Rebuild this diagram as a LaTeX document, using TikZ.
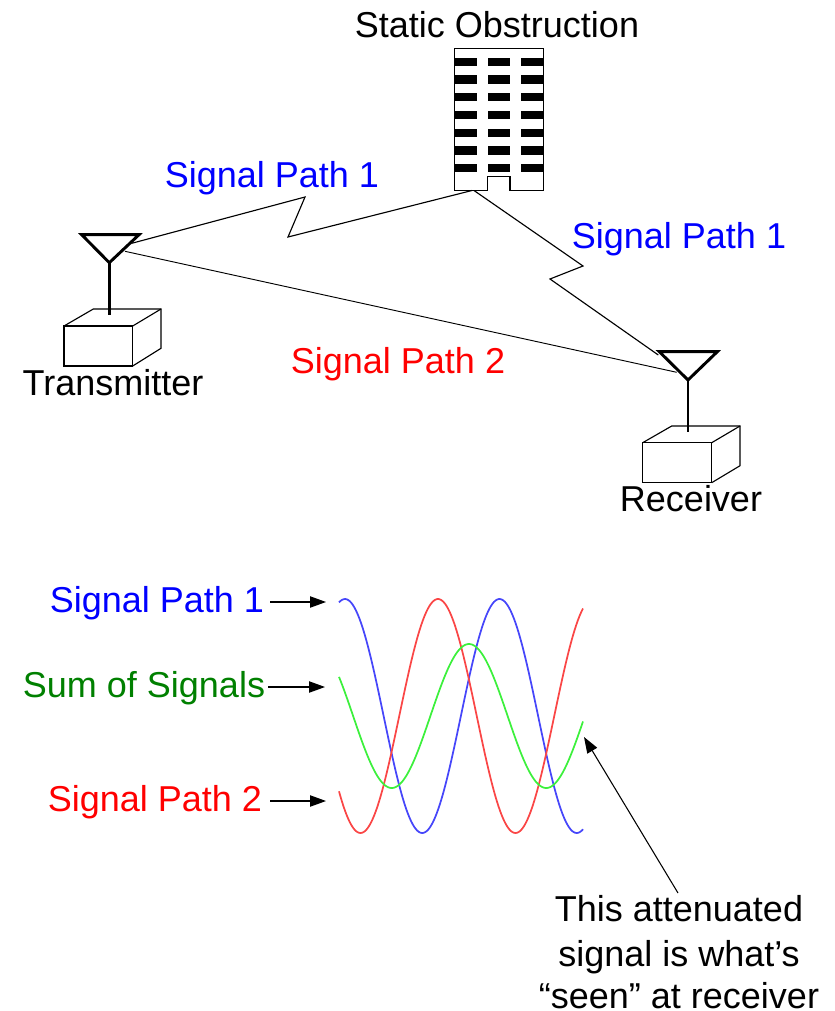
\documentclass[tikz,border=0pt]{standalone}
\usepackage{fontspec}
\setmainfont{Liberation Sans}
\usetikzlibrary{arrows.meta}
\definecolor{sgreen}{RGB}{0,128,0}
\definecolor{wgreen}{RGB}{60,240,60}
\definecolor{wred}{RGB}{250,70,70}
\definecolor{wblue}{RGB}{70,70,250}
\tikzset{
  lbl/.style={inner sep=0pt,font=\fontsize{27pt}{32pt}\selectfont,text height=19pt,text depth=5.5pt},
  lblb/.style={inner sep=0pt,font=\fontsize{27pt}{32pt}\selectfont,anchor=base},
  thinln/.style={line width=.85pt,black},
  ant/.style={line width=2.2pt,black,line join=miter},
  boxln/.style={line width=.85pt,black,line join=miter},
  arr/.style={line width=.8pt,-{Triangle[length=12pt,width=8.5pt]}},
  wave/.style={line width=1.3pt,smooth,samples=160,domain=339:583}
}
\begin{document}
\begin{tikzpicture}[x=0.75pt,y=-0.75pt]
\useasboundingbox (0,0) rectangle (835,1011);
% building
\draw[boxln] (454.7,190.3) -- (454.7,48.7) -- (543.3,48.7) -- (543.3,190.3) -- (510,190.3) -- (510,176.7) -- (487.7,176.7) -- (487.7,190.3) -- cycle;
\foreach \r in {57.7,75.3,93,110.7,128.7,146.3,164}{
  \foreach \c/\d in {454.7/476.7,487.7/510,521/543.3}{
    \fill[black] (\c,\r) rectangle (\d,\r+8.3);
  }
}
\coordinate (bA) at (472,190.5);
\coordinate (bB) at (474,190.5);
% transmitter
\coordinate (t1) at (81.7,234.7);
\coordinate (t2) at (139,234.7);
\coordinate (t3) at (109.3,262.7);
\coordinate (t4) at (109.3,315);
\draw[boxln] (64,326) rectangle (132.7,366);
\draw[boxln] (64,326) -- (93.3,309) -- (161,309) -- (161,348.3) -- (132.7,366);
\draw[boxln] (132.7,326) -- (161,309);
\draw[ant] (t1) -- (t2) -- (t3) -- cycle;
\draw[ant] (t3) -- (t4);
% receiver
\coordinate (r1) at (659.3,351.7);
\coordinate (r2) at (717.3,351.7);
\coordinate (r3) at (688,380);
\coordinate (r4) at (688,432.3);
\draw[boxln] (642.7,442.7) rectangle (711.7,482.7);
\draw[boxln] (642.7,442.7) -- (671.7,426) -- (740,426) -- (740,465.7) -- (711.7,482.7);
\draw[boxln] (711.7,442.7) -- (740,426);
\draw[ant] (r1) -- (r2) -- (r3) -- cycle;
\draw[ant] (r3) -- (r4);
% signal paths
\coordinate (tA) at (131.7,243.3);
\coordinate (tB) at (125,251.3);
\coordinate (rA) at (658.3,355);
\coordinate (rB) at (676.7,372.3);
\draw[thinln] (tA) -- (305,197) -- (288,237) -- (bA);
\draw[thinln] (bB) -- (583,266) -- (550,279) -- (rA);
\draw[thinln,line width=.7pt] (tB) -- (rB);
% labels
\node[lbl] (so) at (497,28) {Static Obstruction};
\node[lbl,text=blue] (sp1a) at (272,178) {Signal Path 1};
\node[lbl,text=blue] (sp1b) at (679,239) {Signal Path 1};
\node[lbl,text=red] (sp2a) at (398,364) {Signal Path 2};
\node[lbl] (tx) at (113,386) {Transmitter};
\node[lbl] (rx) at (691,502) {Receiver};
\node[lbl,text=blue] (sp1c) at (157,603) {Signal Path 1};
\node[lbl,text=sgreen] (sum) at (144,688) {Sum of Signals};
\node[lbl,text=red] (sp2c) at (155,802) {Signal Path 2};
\node[lbl] (n1) at (679,912) {This attenuated};
\node[lbl] (n2) at (679,957) {signal is what’s};
\node[lblb] (n3) at (679,1008) {“seen” at receiver};
% waves
\draw[wave,wblue] plot (\x,{716-117*cos((\x-345)/154.5*360)});
\draw[wave,wred] plot (\x,{716-117*cos((\x-438)/155*360)});
\draw[wave,wgreen] plot (\x,{716-72*cos((\x-469)/154.5*360)});
% arrows
\coordinate (a1) at (326,602);
\coordinate (a2) at (325,687);
\coordinate (a3) at (326,801);
\coordinate (a4) at (584,737);
\coordinate (a4s) at (678,893);
\draw[arr] (sp1c.east |- a1) ++(6,0) coordinate (s1) (s1) -- (a1);
\draw[arr] (sum.east |- a2) ++(3,0) coordinate (s2) (s2) -- (a2);
\draw[arr] (sp2c.east |- a3) ++(8,0) coordinate (s3) (s3) -- (a3);
\draw[arr] (a4s) -- (a4);
\end{tikzpicture}
\end{document}
